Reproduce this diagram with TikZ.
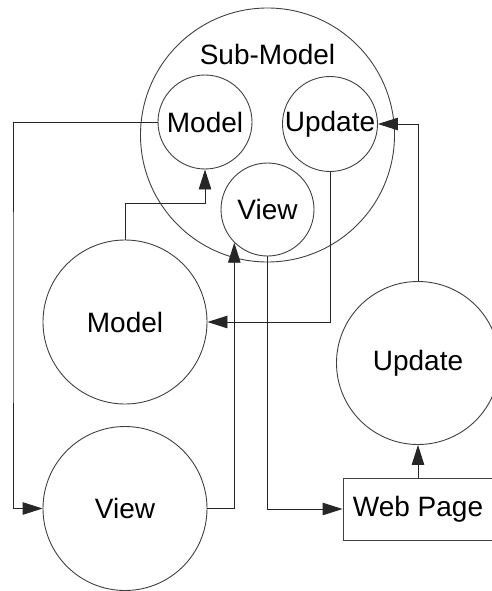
\documentclass[tikz,border=0pt]{standalone}
\usepackage{fontspec}
\setmainfont{Liberation Sans}
\usetikzlibrary{arrows.meta}
\begin{document}
\begin{tikzpicture}[x=1pt,y=-1pt,
  font=\fontsize{28}{34}\selectfont,
  circ/.style={draw=black!75,line width=0.9pt,circle,inner sep=0pt},
  arr/.style={draw=black!85,line width=0.9pt,-{Triangle[length=20pt,width=12.5pt]}},
  line/.style={draw=black!85,line width=0.9pt}]
\useasboundingbox (0,0) rectangle (491,591);
% Sub-model
\node[circ,minimum size=254pt] (sub) at (267.5,135) {};
\node[anchor=base] (sublabel) at (267.5,65) {Sub-Model};
\node[circ,minimum size=94pt] (m1) at (205,122) {Model};
\node[circ,minimum size=95pt] (u1) at (330,124) {Update};
\node[circ,minimum size=93pt] (v1) at (267.5,209.5) {View};
% outer
\node[circ,minimum size=164pt] (m2) at (125,322) {Model};
\node[circ,minimum size=164pt] (v2) at (125,508.5) {View};
\node[circ,minimum size=163pt] (u2) at (418,363) {Update};
\node[draw=black!75,line width=0.9pt,rectangle,minimum width=150pt,minimum height=62pt,inner sep=0pt] (wp) at (418,509) {Web Page};
% connectors
\coordinate (lx) at (13,300);
\coordinate (j2) at (205,203);
\draw[arr] (m1.west) -| (lx) |- (v2.west);
\draw[arr] (m2.north) |- (j2) -- (m1.south);
\draw[arr] (u1.south) |- (m2.east);
\draw[arr] (v2.east) -| (v1.south west);
\draw[arr] (v1.south) |- (wp.west);
\draw[arr] (wp.north) -- (u2.south);
\draw[arr] (u2.north) |- (u1.east);
\end{tikzpicture}
\end{document}
